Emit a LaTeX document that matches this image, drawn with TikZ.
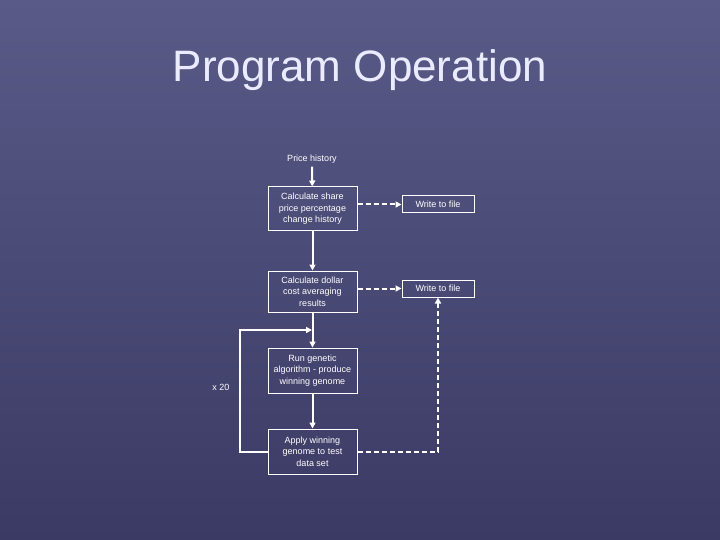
\documentclass[tikz,border=0pt]{standalone}
\usepackage{fontspec}
\setmainfont{Liberation Sans}
\usetikzlibrary{arrows.meta}
\definecolor{bgtop}{HTML}{5A5A88}
\definecolor{bgbot}{HTML}{3A3A64}
\begin{document}
\begin{tikzpicture}[x=1pt,y=-1pt,
  box/.style={draw=white,line width=1pt,text=white,align=center,font=\fontsize{9}{11.5}\selectfont,inner sep=0pt},
  lbl/.style={text=white,font=\fontsize{9}{11}\selectfont},
  arr/.style={draw=white,line width=2pt,-{Triangle[length=6pt,width=6pt]}},
  darr/.style={arr,dash pattern=on 5pt off 3pt}]
\shade[top color=bgtop,bottom color=bgbot] (0,0) rectangle (720,540);
\useasboundingbox (0,0) rectangle (720,540);
\node[text=white!92!blue,font=\fontsize{44}{50}\selectfont] (title) at (360,70) {Program Operation};
\node[lbl] (ph) at (312,159) {Price history};
\node[box,minimum width=89pt,minimum height=44pt] (b1) at (312.5,209) {Calculate share\\price percentage\\change history};
\node[box,minimum width=72pt,minimum height=17pt] (w1) at (438,204.5) {Write to file};
\node[box,minimum width=89pt,minimum height=41pt] (b2) at (312.5,291.5) {Calculate dollar\\cost averaging\\results};
\node[box,minimum width=72pt,minimum height=17pt] (w2) at (438,288.5) {Write to file};
\node[box,minimum width=89pt,minimum height=45pt] (b3) at (312.5,370.5) {Run genetic\\algorithm - produce\\winning genome};
\node[box,minimum width=89pt,minimum height=45pt] (b4) at (312.5,451.5) {Apply winning\\genome to test\\data set};
\node[lbl] (x20) at (221,387) {x 20};
\coordinate (lp) at (312,330);
\coordinate (c1) at (240,451.5);
\coordinate (c2) at (240,330);
\coordinate (c3) at (438,451.5);
\draw[arr] (ph) -- (b1);
\draw[arr] (b1) -- (b2);
\draw[arr] (b2) -- (b3);
\draw[arr] (b3) -- (b4);
\draw[arr] (b4.west) -- (c1) -- (c2) -- (lp);
\draw[darr] (b1.east |- w1) -- (w1);
\draw[darr] (b2.east |- w2) -- (w2);
\draw[darr] (b4.east) -- (c3) -- (w2.south);
\end{tikzpicture}
\end{document}
